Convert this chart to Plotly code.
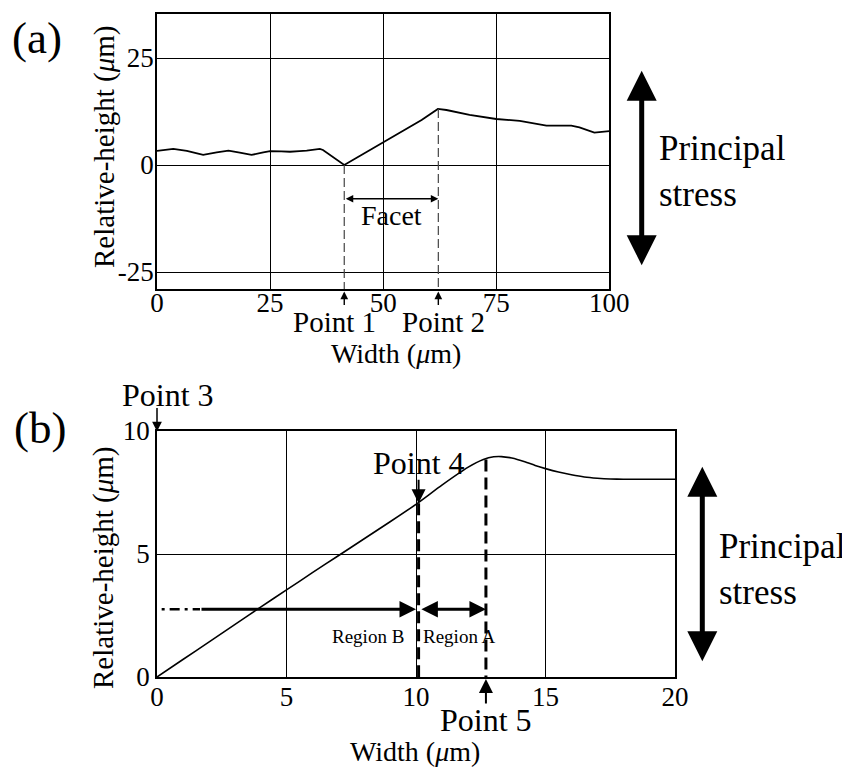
import plotly.graph_objects as go

# page body has an 8px margin; size the figure so it fills the 850x767 window exactly
OFF = 8
W, H = 850 - OFF, 767 - OFF
FONT = "Liberation Serif, Times New Roman, Times, serif"

# ---------------- data: panel (a) ----------------
a_width = [0, 2, 3.6, 6.6, 8.5, 10.2, 13.2, 15.8, 18.3, 20.9, 23.5, 25, 27.5, 29.4, 31.5,
           33.1, 36.0, 36.7, 41.4, 45.0, 50.0, 55.0, 58.5, 62.1, 64.0, 69.1, 75.0,
           80.2, 86.1, 91.6, 93.4, 96.7, 99.7, 100]
a_height = [3.3, 3.6, 3.75, 3.3, 2.8, 2.35, 2.95, 3.35, 2.9, 2.35, 2.95, 3.25, 3.2, 3.1, 3.25,
            3.35, 3.75, 3.5, 0.0, 2.2, 5.2, 8.2, 10.5, 13.1, 12.85, 11.7, 10.75,
            10.3, 9.2, 9.2, 8.8, 7.55, 7.9, 7.9]
a_xticks = [0, 25, 50, 75, 100]
a_yticks = [-25, 0, 25]
a_yticklabels = ["-25", "0", "25"]
a_points_x = [41.4, 62.2]          # Point 1, Point 2
a_points_y = [0.0, 13.1]
a_facet_y = -7.9

# ---------------- data: panel (b) ----------------
b_width = [0, 1, 2, 3, 4, 5, 6, 7, 8, 9, 10, 11, 12, 12.6, 13.0, 13.3, 13.7, 14.2,
           14.6, 15.0, 15.5, 16.0, 16.5, 17.0, 17.5, 18.0, 19.0, 20.0]
b_height = [0, 0.71, 1.42, 2.13, 2.84, 3.54, 4.24, 4.93, 5.62, 6.31, 7.02, 7.8, 8.52, 8.84,
            8.95, 8.96, 8.9, 8.75, 8.6, 8.47, 8.33, 8.22, 8.13, 8.08, 8.05, 8.04, 8.04, 8.04]
b_xticks = [0, 5, 10, 15, 20]
b_yticks = [0, 5, 10]
b_point4 = (10.1, 7.06)
b_point5 = (12.7, 8.84)
b_region_y = 2.75
b_regionB_start = 0.18
b_regionB_solid = 1.66
b_regionB_end = 10.0

def px(x):
    return (x - OFF) / W

def py(y):
    return 1 - (y - OFF) / H

fig = go.Figure()
fig.add_trace(go.Scatter(x=a_width, y=a_height, mode="lines", xaxis="x", yaxis="y",
                         line=dict(color="black", width=1.8), showlegend=False, hoverinfo="skip"))
fig.add_trace(go.Scatter(x=b_width, y=b_height, mode="lines", xaxis="x2", yaxis="y2",
                         line=dict(color="black", width=1.6, shape="spline", smoothing=0.5),
                         showlegend=False, hoverinfo="skip"))

axis_common = dict(showline=True, mirror=True, linecolor="black", linewidth=1.5,
                   showgrid=True, gridcolor="black", gridwidth=1.3, zeroline=False,
                   ticks="", tickfont=dict(family=FONT, size=27, color="black"),
                   fixedrange=True, automargin=False)

fig.update_layout(
    template="none",
    width=W, height=H, autosize=False,
    margin=dict(l=0, r=0, t=0, b=0, pad=0),
    paper_bgcolor="white", plot_bgcolor="white",
    font=dict(family=FONT, color="black"),
    showlegend=False,
    xaxis=dict(domain=[px(157), px(609.3)], range=[0, 100], tickvals=a_xticks,
               anchor="y", ticklabelstandoff=-11, **axis_common),
    yaxis=dict(domain=[py(289), py(14)], range=[-28.97, 35.28], tickvals=a_yticks,
               ticktext=a_yticklabels, anchor="x", ticklabelstandoff=-4, **axis_common),
    xaxis2=dict(domain=[px(157), px(675)], range=[0, 20], tickvals=b_xticks,
                anchor="y2", ticklabelstandoff=-5, **axis_common),
    yaxis2=dict(domain=[py(677), py(431)], range=[0, 10], tickvals=b_yticks,
                anchor="x2", ticklabelstandoff=0, **axis_common),
)

shapes = []
# panel (a) dashed verticals
for xv, yv in zip(a_points_x, a_points_y):
    shapes.append(dict(type="line", xref="x", yref="y", x0=xv, x1=xv, y0=yv, y1=-28.97,
                       line=dict(color="#444", width=1.2, dash="9px,4px")))
# panel (b) dashed verticals
for xv, yv in [b_point4, b_point5]:
    shapes.append(dict(type="line", xref="x2", yref="y2", x0=xv, x1=xv, y0=yv, y1=0,
                       line=dict(color="black", width=3, dash="12px,6px")))
# region B dashed lead-in
shapes.append(dict(type="line", xref="x2", yref="y2", x0=b_regionB_start, x1=b_regionB_solid,
                   y0=b_region_y, y1=b_region_y,
                   line=dict(color="black", width=2.5, dash="3px,5px,10px,5px")))
fig.update_layout(shapes=shapes)

ann = []

def text(t, x, y, size, xanchor="center", angle=0, xref="paper", yref="paper"):
    ann.append(dict(text=t, x=x, y=y, xref=xref, yref=yref, xanchor=xanchor, yanchor="middle",
                    showarrow=False, textangle=angle, align="left",
                    font=dict(family=FONT, size=size, color="black")))

def arrow(x, y, ax, ay, xref, yref, width, size, both=False, axref="pixel", ayref="pixel"):
    ann.append(dict(text="", x=x, y=y, xref=xref, yref=yref, ax=ax, ay=ay,
                    axref=axref, ayref=ayref, showarrow=True,
                    arrowhead=2, startarrowhead=2, arrowsize=size, startarrowsize=size,
                    arrowwidth=width, arrowcolor="black", standoff=0, startstandoff=0,
                    arrowside="end+start" if both else "end"))

# panel labels
text("(a)", px(37), py(38), 45)
text("(b)", px(40), py(428), 45)

# axis titles
text("Relative-height (<i>μ</i>m)", px(104), py(147), 29, angle=-90)
text("Width (<i>μ</i>m)", px(396), py(353), 28)
text("Relative-height (<i>μ</i>m)", px(103), py(568), 29, angle=-90)
text("Width (<i>μ</i>m)", px(415), py(751), 28)

# panel (a) annotations
text("Point 1", px(334), py(322), 29)
text("Point 2", px(444), py(322), 29)
for xv in a_points_x:
    arrow(xv, py(291.5), 0, 15, "x", "paper", 1.4, 1.1)
arrow(a_points_x[1], a_facet_y, a_points_x[0], a_facet_y, "x", "y", 1.5, 1.0, both=True,
      axref="x", ayref="y")
text("Facet", 51.9, -11.7, 28, xref="x", yref="y")

# principal stress (a)
arrow(px(641.7), py(70.7), 0, 196, "paper", "paper", 5, 1.2, both=True)
text("Principal<br>stress", px(657), py(171.5), 35, xanchor="left")

# panel (b) annotations
text("Point 3", px(167.5), py(395), 32)
arrow(0, py(431.5), 0, -25, "x2", "paper", 1.5, 1.3)
text("Point 4", px(419), py(462.5), 32)
arrow(b_point4[0], b_point4[1], 0, -25, "x2", "y2", 2, 1.4)
text("Point 5", px(486), py(720), 32)
arrow(b_point5[0], py(679), 0, 26, "x2", "paper", 2, 1.4)

arrow(b_regionB_end, b_region_y, b_regionB_solid, b_region_y, "x2", "y2", 3, 1.1,
      axref="x2", ayref="y2")
arrow(b_point5[0], b_region_y, b_point4[0] + 0.05, b_region_y, "x2", "y2", 3, 1.1, both=True,
      axref="x2", ayref="y2")
text("Region B", px(368), py(636), 19)
text("Region A", px(459.7), py(636), 19)

# principal stress (b)
arrow(px(702.3), py(466.7), 0, 196, "paper", "paper", 5, 1.2, both=True)
text("Principal<br>stress", px(716.7), py(569.2), 35, xanchor="left")

fig.update_layout(annotations=ann)
fig.write_html("out.html")
